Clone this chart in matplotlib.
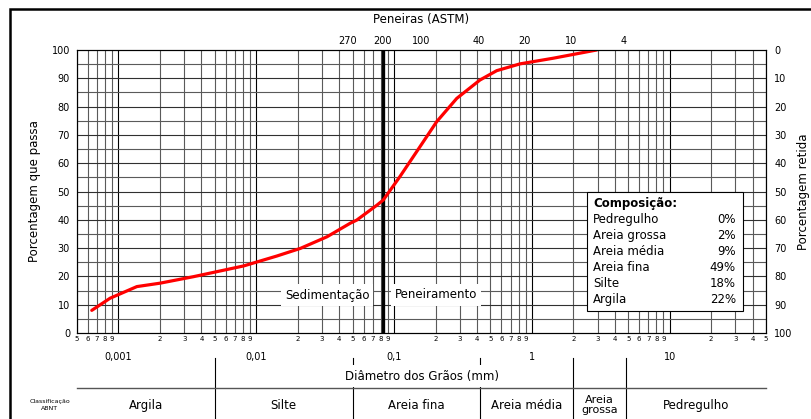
import numpy as np
import matplotlib.pyplot as plt
from matplotlib.transforms import blended_transform_factory
from matplotlib.patches import Rectangle

W, H = 811, 419

# curva granulometrica
diam = [0.00064, 0.00087, 0.00136, 0.0020, 0.0035, 0.0081, 0.0141, 0.0209, 0.0326,
        0.0481, 0.0536, 0.0752, 0.0835, 0.110, 0.154, 0.204, 0.285, 0.42, 0.556,
        0.82, 1.43, 2.95]
passa = [8.0, 12.3, 16.4, 17.6, 19.9, 23.7, 27.2, 29.9, 34.0, 38.8, 39.9, 45.2,
         47.0, 55.2, 65.8, 74.7, 82.9, 89.4, 92.7, 95.1, 97.1, 100.0]

# peneiras ASTM
peneiras = ['270', '200', '100', '40', '20', '10', '4']
abertura = [0.046, 0.083, 0.157, 0.41, 0.88, 1.92, 4.6]
pen200 = 0.083

# classificacao ABNT
classes = ['Argila', 'Silte', 'Areia fina', 'Areia média', 'Areia\ngrossa', 'Pedregulho']
limites = [0.0005, 0.005, 0.05, 0.42, 2.0, 4.8, 50]

# composicao
comp_nomes = ['Pedregulho', 'Areia grossa', 'Areia média', 'Areia fina', 'Silte', 'Argila']
comp_vals = ['0%', '2%', '9%', '49%', '18%', '22%']

decadas = ['0,001', '0,01', '0,1', '1', '10']
dec_vals = [0.001, 0.01, 0.1, 1, 10]


def fx(x):
    return x / W


def fy(y):
    return 1 - y / H


fig = plt.figure(figsize=(W / 100, H / 100), dpi=100)
ax = fig.add_axes([fx(77), fy(333), fx(766) - fx(77), fy(50) - fy(333)])
ax.set_xscale('log')
ax.set_xlim(5e-4, 50)
ax.set_ylim(0, 100)

# grade
vlines = []
for e in range(-4, 2):
    for m in range(1, 10):
        v = m * 10.0 ** e
        if 5e-4 - 1e-12 <= v <= 50 + 1e-9:
            vlines.append((v, m))
for v, m in vlines:
    ax.axvline(v, color='black' if m == 1 else '#5a5a5a', lw=0.8, zorder=1)
for yv in range(5, 100, 5):
    ax.axhline(yv, color='#303030' if yv % 10 == 0 else '#5a5a5a', lw=0.8, zorder=1)
ax.axvline(pen200, color='black', lw=2.4, zorder=3)

ax.plot(diam, passa, color='#ff0000', lw=2.3, zorder=4, solid_capstyle='round',
        solid_joinstyle='round')

for s in ax.spines.values():
    s.set_linewidth(0.8)

# eixos
ax.set_yticks(range(0, 101, 10))
ax.tick_params(axis='y', length=0, labelsize=7, pad=5)
mt = [v for v, m in vlines if m != 1]
ax.set_xticks(mt, labels=[str(m) for v, m in vlines if m != 1])
ax.xaxis.set_minor_locator(plt.NullLocator())
ax.tick_params(axis='x', length=0, labelsize=5, pad=2.5)
ax.set_ylabel('Porcentagem que passa', fontsize=8.5, labelpad=8)

ax2 = ax.twinx()
ax2.set_ylim(100, 0)
ax2.set_yticks(range(0, 101, 10))
ax2.tick_params(axis='y', length=0, labelsize=7, pad=6)
ax2.set_ylabel('Porcentagem retida', fontsize=8.5, labelpad=3)

tr = blended_transform_factory(ax.transData, fig.transFigure)
tra = blended_transform_factory(ax.transAxes, fig.transFigure)

# peneiras no topo
for p, a in zip(peneiras, abertura):
    ax.text(a, fy(41.5), p, transform=tr, ha='center', va='center', fontsize=7)
fig.text(fx(421), fy(19), 'Peneiras (ASTM)', ha='center', va='center', fontsize=8.5)

# rotulos das decadas
for lab, d in zip(decadas, dec_vals):
    ax.text(d, fy(357), lab, transform=tr, ha='center', va='center', fontsize=7)

# tabela de classificacao
for lim in limites[1:-1]:
    ax.plot([lim, lim], [fy(358), 0], transform=tr, color='black', lw=0.8, clip_on=False)
ax.plot([0, 1], [fy(388), fy(388)], transform=tra, color='#555555', lw=1.0, clip_on=False)
fig.text(fx(422), fy(376), 'Diâmetro dos Grãos (mm)', ha='center', va='center', fontsize=8.5,
         bbox=dict(facecolor='white', edgecolor='none', pad=3.5))
for c, a, b in zip(classes, limites[:-1], limites[1:]):
    ax.text(np.sqrt(a * b), fy(405), c, transform=tr, ha='center', va='center',
            fontsize=8.5 if '\n' not in c else 8, linespacing=1.0)
fig.text(fx(50), fy(405), 'Classificação\nABNT', ha='center', va='center', fontsize=4.5,
         linespacing=1.3)

# sedimentacao / peneiramento
fig.text(fx(327), fy(295), 'Sedimentação', ha='center', va='center', fontsize=8.5, zorder=5,
         bbox=dict(facecolor='white', edgecolor='none', pad=3))
fig.text(fx(436), fy(295), 'Peneiramento', ha='center', va='center', fontsize=8.5, zorder=5,
         bbox=dict(facecolor='white', edgecolor='none', pad=3))

# caixa da composicao
fig.patches.append(Rectangle((fx(587), fy(311)), fx(743) - fx(587), fy(192) - fy(311),
                             transform=fig.transFigure, facecolor='white', edgecolor='black',
                             lw=0.8, zorder=5))
fig.text(fx(593), fy(203), 'Composição:', fontsize=8.5, fontweight='bold', va='center', zorder=6)
for i, (n, v) in enumerate(zip(comp_nomes, comp_vals)):
    yy = 219 + i * 16
    fig.text(fx(593), fy(yy), n, fontsize=8.5, va='center', zorder=6)
    fig.text(fx(736), fy(yy), v, fontsize=8.5, va='center', ha='right', zorder=6)

# moldura externa
fig.patches.append(Rectangle((fx(10), -0.1), 1.2, fy(9) + 0.1, transform=fig.transFigure,
                             facecolor='none', edgecolor='black', lw=1.8))

fig.savefig('out.png', dpi=100)
